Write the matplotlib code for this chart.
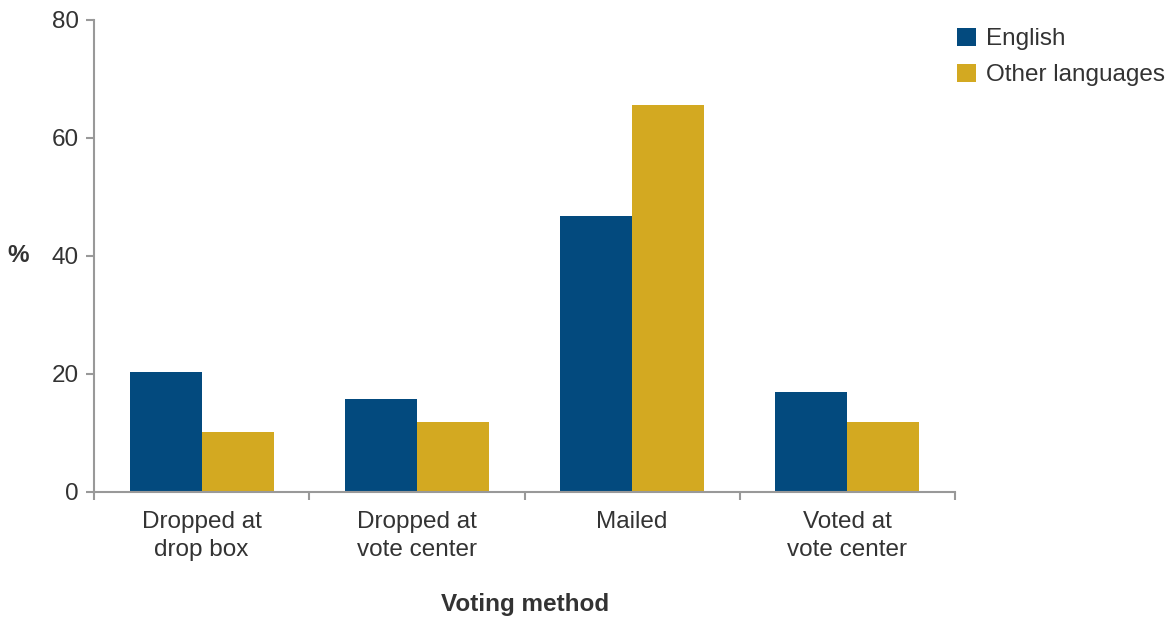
import numpy as np
import matplotlib.pyplot as plt

categories = ['Dropped at\ndrop box', 'Dropped at\nvote center', 'Mailed', 'Voted at\nvote center']
english = [20.3, 15.7, 46.7, 16.9]
other_languages = [10.1, 11.9, 65.6, 11.9]
y_ticks = [0, 20, 40, 60, 80]

NAVY = '#034a7e'
GOLD = '#d3a921'
AXIS_GREY = '#999999'
TEXT = '#333333'
FS = 17.5

plt.rcParams['font.family'] = ['Liberation Sans', 'DejaVu Sans']

fig = plt.figure(figsize=(11.7, 6.22), dpi=100)
ax = fig.add_axes([94 / 1170, 1 - 492 / 622, (955 - 94) / 1170, (492 - 20) / 622])

x = np.arange(len(categories))
w = 0.335
ax.bar(x - w / 2, english, w, color=NAVY, label='English')
ax.bar(x + w / 2, other_languages, w, color=GOLD, label='Other languages')

ax.set_xlim(-0.5, len(categories) - 0.5)
ax.set_ylim(0, 80)
ax.set_yticks(y_ticks)
ax.set_yticklabels([str(v) for v in y_ticks], fontsize=FS, color=TEXT)

# category labels between boundary ticks
ax.set_xticks(np.arange(len(categories) + 1) - 0.5)
ax.set_xticklabels([])
ax.set_xticks(x, minor=True)
ax.set_xticklabels(categories, minor=True, fontsize=FS, color=TEXT, linespacing=1.3)
ax.tick_params(axis='x', which='minor', length=0, pad=14)
ax.tick_params(axis='x', which='major', length=6, width=1.5, color=AXIS_GREY)
ax.tick_params(axis='y', length=6, width=1.5, color=AXIS_GREY, pad=5)

for side in ['top', 'right']:
    ax.spines[side].set_visible(False)
for side in ['left', 'bottom']:
    ax.spines[side].set_color(AXIS_GREY)
    ax.spines[side].set_linewidth(1.5)

fig.text(18 / 1170, 1 - 256 / 622, '%', fontsize=FS, fontweight='bold',
         color=TEXT, ha='center', va='center')
fig.text(525 / 1170, 1 - 605 / 622, 'Voting method', fontsize=FS,
         fontweight='bold', color=TEXT, ha='center', va='center')

fig.legend(loc='upper left', bbox_to_anchor=(935 / 1170, 1 - 6 / 622),
           frameon=False, fontsize=FS, handlelength=0.78, handleheight=0.78,
           handletextpad=0.4, labelspacing=0.55, labelcolor=TEXT)

fig.savefig('out.png', dpi=100)
